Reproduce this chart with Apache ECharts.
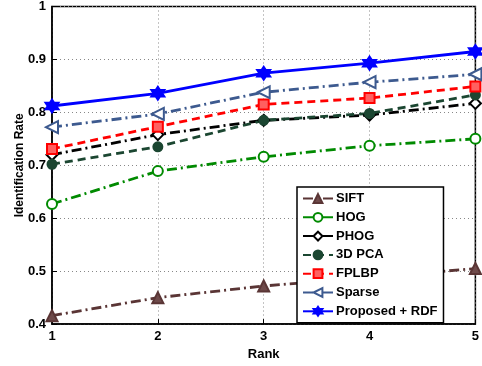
<!DOCTYPE html>
<html><head><meta charset="utf-8">
<script src="https://cdn.jsdelivr.net/npm/echarts@6/dist/echarts.min.js"></script>
<style>html,body{margin:0;padding:0;background:#fff}#c{width:482px;height:366px}</style>
</head><body><div id="c"></div>
<script>
const ranks = [1, 2, 3, 4, 5];
const yTicks = [0.4, 0.5, 0.6, 0.7, 0.8, 0.9, 1];
const siftVals = [0.416, 0.450, 0.472, 0.488, 0.505];
const hogVals = [0.627, 0.689, 0.716, 0.737, 0.750];
const phogVals = [0.720, 0.758, 0.785, 0.795, 0.817];
const pca3dVals = [0.702, 0.735, 0.785, 0.798, 0.833];
const fplbpVals = [0.731, 0.773, 0.815, 0.827, 0.849];
const sparseVals = [0.772, 0.797, 0.838, 0.857, 0.872];
const proposedVals = [0.812, 0.836, 0.874, 0.893, 0.915];
const seriesNames = ['SIFT', 'HOG', 'PHOG', '3D PCA', 'FPLBP', 'Sparse', 'Proposed + RDF'];

const dashDot = [10, 4, 2, 4];
const dashed = [8, 5];
const F = 'Liberation Sans, Arial, sans-serif';

function mk(name, vals, color, dash, symbol, size, fill) {
  return {
    name: name, type: 'line',
    data: ranks.map((r, i) => [r, vals[i]]),
    symbol: symbol, symbolSize: size,
    lineStyle: { color: color, width: 2.8, type: dash },
    itemStyle: { color: fill, borderColor: color, borderWidth: 2 },
    color: color,
    z: 3
  };
}
const series = [
  mk(seriesNames[0], siftVals, '#5a3535', dashDot, 'triangle', 11, '#6e4a4a'),
  mk(seriesNames[1], hogVals, '#008a00', dashDot, 'circle', 10, '#ffffff'),
  mk(seriesNames[2], phogVals, '#000000', dashDot, 'diamond', 11, '#ffffff'),
  mk(seriesNames[3], pca3dVals, '#1b4631', dashed, 'circle', 9, '#1b4631'),
  mk(seriesNames[4], fplbpVals, '#ff0000', dashed, 'rect', 10, '#ff6060'),
  mk(seriesNames[5], sparseVals, '#3d5a8f', dashDot, 'triangle', 12, '#ffffff'),
  mk(seriesNames[6], proposedVals, '#0000ff', 'solid', 'path://M0,-10 L2.9,-5 L8.7,-5 L5.8,0 L8.7,5 L2.9,5 L0,10 L-2.9,5 L-8.7,5 L-5.8,0 L-8.7,-5 L-2.9,-5 Z', 13, '#0000ff')
];
series[5].symbolRotate = 90;

const chart = echarts.init(document.getElementById('c'));
chart.setOption({
  animation: false,
  backgroundColor: '#fff',
  grid: { left: 52, right: 6, top: 5, bottom: 39, show: true, borderColor: '#000', borderWidth: 1.5 },
  xAxis: {
    type: 'value', min: 1, max: 5, interval: 1,
    name: 'Rank', nameLocation: 'middle', nameGap: 22,
    nameTextStyle: { fontFamily: F, fontWeight: 'bold', fontSize: 13, color: '#000' },
    axisLine: { lineStyle: { color: '#000', width: 1.5 } },
    axisTick: { inside: true, length: 5, lineStyle: { color: '#000' } },
    axisLabel: { fontFamily: F, fontWeight: 'bold', fontSize: 13, color: '#000', margin: 6 },
    splitLine: { show: true, lineStyle: { type: [1, 3], color: '#888' } }
  },
  yAxis: {
    type: 'value', min: 0.4, max: 1, interval: 0.1,
    name: 'Identification Rate', nameLocation: 'middle', nameGap: 26, nameMoveOverlap: false,
    nameTextStyle: { fontFamily: F, fontWeight: 'bold', fontSize: 12, color: '#000' },
    axisLine: { lineStyle: { color: '#000', width: 1.5 } },
    axisTick: { inside: true, length: 5, lineStyle: { color: '#000' } },
    axisLabel: { fontFamily: F, fontWeight: 'bold', fontSize: 13, color: '#000', margin: 6,
      formatter: v => String(+v.toFixed(1)) },
    splitLine: { show: true, lineStyle: { type: [1, 3], color: '#888' } }
  },
  legend: {
    data: seriesNames,
    orient: 'vertical', left: 297, top: 187,
    width: 146,
    itemWidth: 30, itemHeight: 11, itemGap: 5.8,
    padding: [5, 6, 5, 5],
    backgroundColor: '#fff', borderColor: '#000', borderWidth: 1.5,
    textStyle: { fontFamily: F, fontWeight: 'bold', fontSize: 13, color: '#000', padding: [0, 0, 0, -2] }
  },
  series: series
});
</script></body></html>
